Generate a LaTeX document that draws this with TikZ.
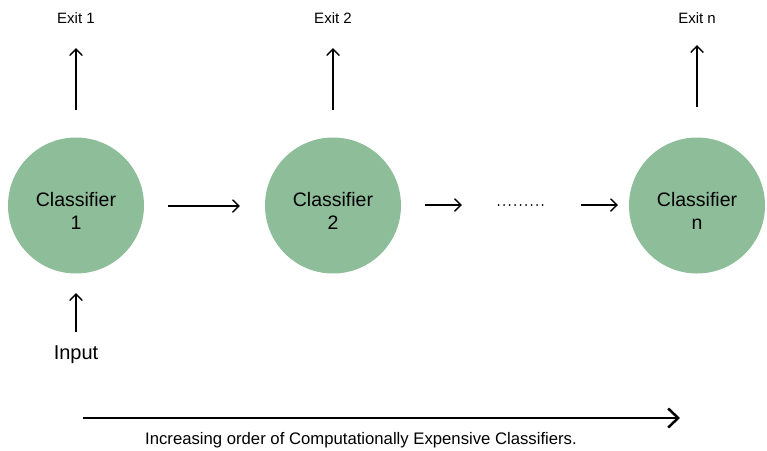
\documentclass[tikz,border=0pt]{standalone}
\usepackage{fontspec}
\setmainfont{Liberation Sans}
\usetikzlibrary{arrows.meta}
\definecolor{clsgreen}{RGB}{142,189,153}
\begin{document}
\begin{tikzpicture}[x=1pt,y=-1pt,
  clsnode/.style={circle,fill=clsgreen,minimum size=136pt,inner sep=0pt},
  clstext/.style={align=center,inner sep=0pt,font=\fontsize{19.5}{23}\selectfont},
  lbl/.style={font=\fontsize{15}{18}\selectfont,inner sep=0pt},
  flow/.style={line width=1.4pt,-{Straight Barb[length=6.5pt,width=12.5pt,line width=1.4pt]}}]
\useasboundingbox (0,0) rectangle (767,450);

% classifiers
\node[clsnode] (c1) at (76,205.5) {};
\node[clsnode] (c2) at (333,205.5) {};
\node[clsnode] (cn) at (697,205.5) {};
\node[clstext] (t1) at (76,211) {Classifier\\1};
\node[clstext] (t2) at (333,211) {Classifier\\2};
\node[clstext] (tn) at (697,211) {Classifier\\n};

% exit labels and their arrow ends
\node[lbl] (e1) at (76,18) {Exit 1};
\node[lbl] (e2) at (333,18) {Exit 2};
\node[lbl] (en) at (697,18) {Exit n};
\coordinate (e1b) at (76,110);
\coordinate (e1t) at (76,48);
\coordinate (e2b) at (333,110);
\coordinate (e2t) at (333,48);
\coordinate (enb) at (697,107);
\coordinate (ent) at (697,45);
\draw[flow] (e1b) -- (e1t);
\draw[flow] (e2b) -- (e2t);
\draw[flow] (enb) -- (ent);

% input
\node[font=\fontsize{20}{24}\selectfont,inner sep=0pt] (in) at (76,355) {Input};
\coordinate (inb) at (76,332);
\coordinate (int) at (76,293);
\draw[flow] (inb) -- (int);

% chain between classifiers
\coordinate (a1s) at (168,206);
\coordinate (a1e) at (240,206);
\coordinate (a2s) at (425,205);
\coordinate (a2e) at (462,205);
\coordinate (a3s) at (581,205);
\coordinate (a3e) at (618,205);
\draw[flow] (a1s) -- (a1e);
\draw[flow] (a2s) -- (a2e);
\draw[flow] (a3s) -- (a3e);
\foreach \i in {0,...,8} \fill ({498.5+\i*5.5},205) circle (1pt);

% cost axis
\coordinate (axs) at (83,418);
\coordinate (axe) at (680,418);
\draw[line width=2.5pt,-{Straight Barb[length=10pt,width=19pt,line width=2.5pt]}] (axs) -- (axe);
\node[font=\fontsize{16.7}{20}\selectfont,inner sep=0pt] (axl) at (361,440.5) {Increasing order of Computationally Expensive Classifiers.};
\end{tikzpicture}
\end{document}
